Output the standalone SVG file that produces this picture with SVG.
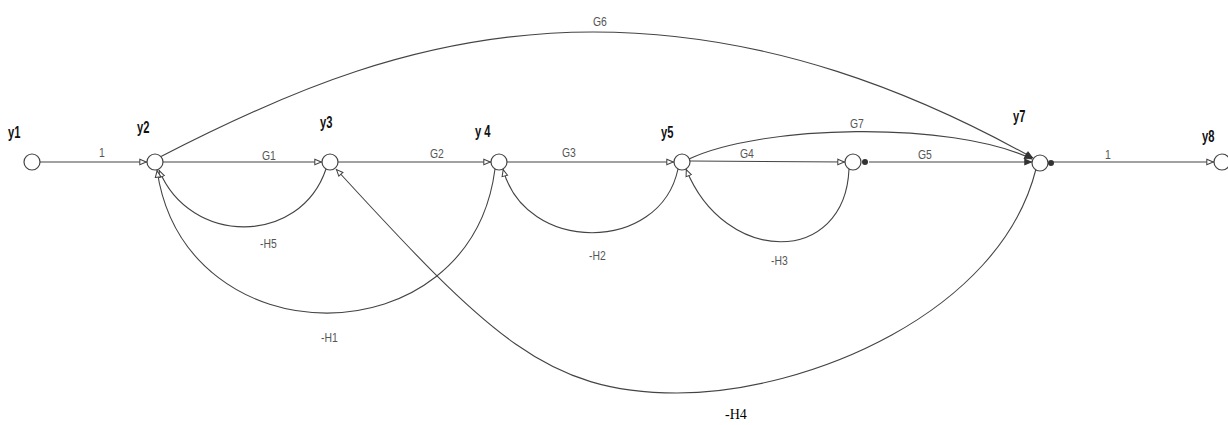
<svg xmlns="http://www.w3.org/2000/svg" width="1228" height="425" viewBox="0 0 1228 425">
<style>
.n{fill:#fff;stroke:#444;stroke-width:1.2}
.e{fill:none;stroke:#444;stroke-width:1.1}
.nl{font-family:"Liberation Sans",sans-serif;font-weight:bold;font-size:16px;fill:#111}
.el{font-family:"Liberation Sans",sans-serif;font-size:13px;fill:#555}
.h4{font-family:"Liberation Serif",serif;font-size:14px;fill:#000}
.dot{fill:#333}
</style>
<defs>
<marker id="a" viewBox="0 0 10 10" refX="10" refY="5" markerWidth="8" markerHeight="8" markerUnits="userSpaceOnUse" orient="auto">
<path d="M1,1.5 L9,5 L1,8.5 Z" fill="#fff" stroke="#444" stroke-width="1.3"/>
</marker>
<marker id="b" viewBox="0 0 10 10" refX="10" refY="5" markerWidth="8" markerHeight="8" markerUnits="userSpaceOnUse" orient="auto">
<path d="M1,1.5 L9,5 L1,8.5 Z" fill="#333" stroke="#333" stroke-width="1.3"/>
</marker>
</defs>
<rect width="1228" height="425" fill="#fff"/>
<g id="connectors">
<path class="e" d="M40,162 L147,162" marker-end="url(#a)"/>
<path class="e" d="M163,162 L322,162" marker-end="url(#a)"/>
<path class="e" d="M338,162 L491,162" marker-end="url(#a)"/>
<path class="e" d="M507,162 L674,162" marker-end="url(#a)"/>
<path class="e" d="M690,161 L845,162" marker-end="url(#a)"/>
<path class="e" d="M869,162 L1032,162" marker-end="url(#b)"/>
<path class="e" d="M1053,162 L1214,162" marker-end="url(#a)"/>
<path class="e" d="M160,157 C280,95 420,32 593,32 C770,32 920,95 1033,158" marker-end="url(#b)"/>
<path class="e" d="M689,159 C760,125 950,120 1032,159" marker-end="url(#b)"/>
<path class="e" d="M326,169 C300,246 190,246 159,170" marker-end="url(#a)"/>
<path class="e" d="M495,169 C470,361 185,361 157,170" marker-end="url(#a)"/>
<path class="e" d="M678,169 C660,254 525,254 503,169" marker-end="url(#a)"/>
<path class="e" d="M849,169 C845,266 725,266 686,169" marker-end="url(#a)"/>
<path class="e" d="M1036,169 C1000,313 807,393 677,393 C547,393 490,337 336,169" marker-end="url(#a)"/>
</g>
<g id="y1"><circle class="n" cx="32" cy="162" r="8"/><text class="nl" transform="translate(8,138) scale(0.7,1)">y1</text></g>
<g id="y2"><circle class="n" cx="155" cy="162" r="8"/><text class="nl" transform="translate(137,133) scale(0.7,1)">y2</text></g>
<g id="y3"><circle class="n" cx="330" cy="162" r="8"/><text class="nl" transform="translate(320,128) scale(0.7,1)">y3</text></g>
<g id="y4"><circle class="n" cx="499" cy="162" r="8"/><text class="nl" transform="translate(475,137) scale(0.7,1)">y 4</text></g>
<g id="y5"><circle class="n" cx="682" cy="162" r="8"/><text class="nl" transform="translate(661,138) scale(0.7,1)">y5</text></g>
<g id="y6"><circle class="n" cx="853" cy="162" r="8"/><circle class="dot" cx="865" cy="162" r="3"/></g>
<g id="y7"><circle class="n" cx="1040" cy="163" r="8"/><circle class="dot" cx="1051" cy="163" r="3"/><text class="nl" transform="translate(1013,122) scale(0.7,1)">y7</text></g>
<g id="y8"><circle class="n" cx="1222" cy="162" r="8"/><text class="nl" transform="translate(1202,142) scale(0.7,1)">y8</text></g>
<g id="labels">
<text class="el" transform="translate(99,157) scale(0.8,1)">1</text>
<text class="el" transform="translate(262,160) scale(0.8,1)">G1</text>
<text class="el" transform="translate(430,158) scale(0.8,1)">G2</text>
<text class="el" transform="translate(562,157) scale(0.8,1)">G3</text>
<text class="el" transform="translate(740,158) scale(0.8,1)">G4</text>
<text class="el" transform="translate(850,128) scale(0.8,1)">G7</text>
<text class="el" transform="translate(918,159) scale(0.8,1)">G5</text>
<text class="el" transform="translate(1105,159) scale(0.8,1)">1</text>
<text class="el" transform="translate(593,26) scale(0.8,1)">G6</text>
<text class="el" transform="translate(260,248) scale(0.8,1)">-H5</text>
<text class="el" transform="translate(321,342) scale(0.8,1)">-H1</text>
<text class="el" transform="translate(589,260) scale(0.8,1)">-H2</text>
<text class="el" transform="translate(771,265) scale(0.8,1)">-H3</text>
<text class="h4" x="725" y="419">-H4</text>
</g>
</svg>
